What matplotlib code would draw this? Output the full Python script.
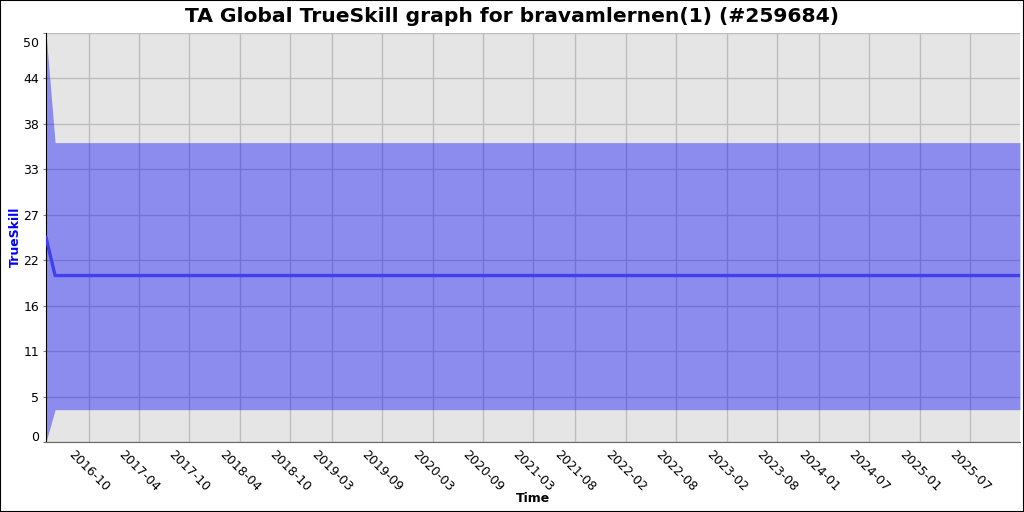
import matplotlib
matplotlib.use("Agg")
import matplotlib.pyplot as plt
import matplotlib.dates as mdates
import matplotlib.transforms as mtransforms
from matplotlib.patches import Rectangle
import datetime as dt

# ---- data ----
times = [dt.date(2016, 4, 29), dt.date(2016, 6, 1), dt.date(2025, 12, 30)]
mu = [25.0, 20.35, 20.35]
lower = [0.0, 3.95, 3.95]
upper = [50.0, 36.6, 36.6]

ytick_values = [0, 50/9, 100/9, 150/9, 200/9, 250/9, 300/9, 350/9, 400/9, 50]
ytick_labels = ["0", "5", "11", "16", "22", "27", "33", "38", "44", "50"]
xtick_labels = ["2016-10", "2017-04", "2017-10", "2018-04", "2018-10", "2019-03",
                "2019-09", "2020-03", "2020-09", "2021-03", "2021-08", "2022-02",
                "2022-08", "2023-02", "2023-08", "2024-01", "2024-07", "2025-01",
                "2025-07"]
xtick_dates = [dt.date(int(s[:4]), int(s[5:]), 1) for s in xtick_labels]

title = "TA Global TrueSkill graph for bravamlernen(1) (#259684)"

# ---- figure ----
W, H = 1024, 512
fig = plt.figure(figsize=(W/100, H/100), dpi=100)
fig.patch.set_facecolor("white")
ax = fig.add_axes([46/W, 1-442/H, (1020-46)/W, (442-33)/H])
ax.set_facecolor("#e5e5e5")

ax.fill_between(times, lower, upper, color="#0000ff", alpha=0.39, linewidth=0, zorder=2)
ax.plot(times, mu, color="#4040f0", linewidth=2.4, zorder=3)

ax.set_xlim(times[0], times[-1])
ax.set_ylim(0, 50)

ax.set_yticks(ytick_values)
ax.set_yticklabels(ytick_labels, fontsize=9)
ax.set_xticks([mdates.date2num(d) for d in xtick_dates])
ax.set_xticklabels(xtick_labels, fontsize=9, rotation=-45, ha="center", va="top")

ax.grid(True, color="#bdbdbd", linewidth=1, zorder=1)
ax.set_axisbelow(True)
ax.tick_params(axis="x", length=0, pad=4)
ax.tick_params(axis="y", length=2, pad=3, color="#808080")

ylabs = ax.get_yticklabels()
ylabs[-1].set_va("top")
ylabs[-1].set_transform(ylabs[-1].get_transform() +
                        mtransforms.ScaledTranslation(0, -4/100, fig.dpi_scale_trans))
ylabs[0].set_va("bottom")
ylabs[0].set_transform(ylabs[0].get_transform() +
                       mtransforms.ScaledTranslation(0, -2/100, fig.dpi_scale_trans))

for s in ["top", "right"]:
    ax.spines[s].set_visible(False)
ax.spines["left"].set_color("black")
ax.spines["bottom"].set_color("#666666")

fig.text(0.5, 1-17/H, title, ha="center", va="center", fontsize=14.6, fontweight="bold")
fig.text(15/W, 1-237/H, "TrueSkill", rotation=90, ha="center", va="center",
         fontsize=9, fontweight="bold", color="#0000ff")
fig.text(533/W, 1-499/H, "Time", ha="center", va="center", fontsize=9, fontweight="bold")

fig.patches.append(Rectangle((0, 0), 1, 1, transform=fig.transFigure, fill=False,
                             edgecolor="black", linewidth=1.5))

fig.savefig("out.png", dpi=100)
